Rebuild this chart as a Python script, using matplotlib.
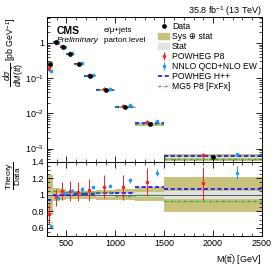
import matplotlib
matplotlib.use("Agg")
import matplotlib.pyplot as plt
import numpy as np
from matplotlib.patches import Patch
from matplotlib.lines import Line2D

# bin edges in M(tt) [GeV]
edges = [300, 360, 430, 500, 580, 680, 800, 1000, 1200, 1500, 2500]

# measured cross section [pb/GeV]
data = [0.25, 1.05, 0.77, 0.48, 0.25, 0.116, 0.045, 0.015, 0.0049, 0.00056]

# relative uncertainties (up / down) of the data
sys_up = [0.24, 0.08, 0.06, 0.05, 0.05, 0.05, 0.06, 0.07, 0.10, 0.22]
sys_dn = [0.24, 0.08, 0.06, 0.05, 0.05, 0.05, 0.06, 0.06, 0.08, 0.21]
stat = [0.01, 0.01, 0.01, 0.01, 0.01, 0.01, 0.02, 0.02, 0.03, 0.05]

# theory / data
r_powheg = [0.77, 0.97, 1.05, 1.05, 1.04, 1.06, 1.10, 1.09, 1.16, 1.14]
e_powheg = [0.12, 0.10, 0.11, 0.12, 0.12, 0.13, 0.14, 0.15, 0.17, 0.20]
r_nnlo = [0.62, 0.96, 1.02, 1.05, 1.07, 1.09, 1.11, 1.175, 1.27, 1.27]
e_nnlo = [0.02, 0.02, 0.02, 0.02, 0.02, 0.02, 0.02, 0.03, 0.04, 0.08]
r_herwig = [0.94, 1.00, 1.00, 1.00, 1.01, 1.01, 1.02, 1.02, 1.09, 1.07]
r_mg5 = [0.67, 1.05, 1.07, 1.04, 1.04, 1.04, 1.04, 0.99, 1.00, 0.93]

edges = np.array(edges, dtype=float)
lo, hi = edges[:-1], edges[1:]
w = hi - lo
cen = lo + 0.5*w
x_red = lo + 0.40*w
x_blue = lo + 0.74*w
data = np.array(data)

c_sys = "#c9c27f"
c_stat = "#e2e2e2"
c_red = "#ff2020"
c_blue = "#1e9cf0"
c_dash = "#1010ff"
c_green = "#33aa33"
dash = (0, (2.5, 1.5))
dashdot = (0, (2, 1, 0.6, 1))

plt.rcParams["font.family"] = ["Liberation Sans", "DejaVu Sans"]
plt.rcParams["font.size"] = 6.5
plt.rcParams["mathtext.fontset"] = "custom"
plt.rcParams["mathtext.rm"] = "Liberation Sans"
plt.rcParams["mathtext.it"] = "Liberation Sans:italic"

fig = plt.figure(figsize=(2.76, 2.68), dpi=100)
ax = fig.add_axes([0.170, 0.396, 0.779, 0.541])
rx = fig.add_axes([0.170, 0.119, 0.779, 0.277], sharex=ax)

# ---- top panel
for i in range(len(data)):
    ax.fill_between([lo[i], hi[i]], data[i]*(1-sys_dn[i]), data[i]*(1+sys_up[i]),
                    color=c_sys, lw=0, zorder=1)
    ax.fill_between([lo[i], hi[i]], data[i]*(1-stat[i]), data[i]*(1+stat[i]),
                    color=c_stat, lw=0, zorder=1)
    ax.plot([lo[i], hi[i]], [data[i]*r_herwig[i]]*2, color=c_dash, ls=dash, lw=1.2, zorder=3)
    ax.plot([lo[i], hi[i]], [data[i]*r_mg5[i]]*2, color=c_green, ls=dashdot, lw=1.0, zorder=3)
h_red = ax.errorbar(x_red, data*np.array(r_powheg), yerr=data*np.array(e_powheg), fmt="o",
                    ms=1.6, color=c_red, lw=0.7, zorder=4)
h_blue = ax.errorbar(x_blue, data*np.array(r_nnlo), yerr=data*np.array(e_nnlo), fmt="o",
                     ms=1.6, color=c_blue, lw=0.7, zorder=4)
h_data, = ax.plot(cen, data, "o", color="black", ms=2.4, zorder=5)

ax.set_yscale("log")
ax.set_ylim(4.2e-4, 5.5)
ax.set_yticks([1e-3, 1e-2, 1e-1, 1])
ax.set_yticklabels(["$10^{-3}$", "$10^{-2}$", "$10^{-1}$", "1"])
ax.set_ylabel(r"$\dfrac{d\sigma}{dM(t\bar{t})}$ [pb GeV$^{-1}$]", loc="top", fontsize=6.3)
ax.tick_params(labelbottom=False)

ax.text(0.045, 0.935, "CMS", transform=ax.transAxes, fontsize=7.5, fontweight="bold", va="top")
ax.text(0.045, 0.86, "Preliminary", transform=ax.transAxes, fontsize=6, style="italic", va="top")
ax.text(0.265, 0.93, "e/μ+jets", transform=ax.transAxes, fontsize=5.8, va="top")
ax.text(0.265, 0.86, "parton level", transform=ax.transAxes, fontsize=5.8, va="top")
fig.text(0.949, 0.958, "35.8 fb$^{-1}$ (13 TeV)", ha="right", va="center", fontsize=6.5)

handles = [
    h_data,
    Patch(color=c_sys),
    Patch(color=c_stat),
    h_red,
    h_blue,
    Line2D([], [], color=c_dash, ls=dash, lw=1.2),
    Line2D([], [], color=c_green, ls=dashdot, lw=1.0),
]
labels = ["Data", "Sys ⊕ stat", "Stat", "POWHEG P8", "NNLO QCD+NLO EW",
          "POWHEG H++", "MG5 P8 [FxFx]"]
ax.legend(handles, labels, loc="upper right", bbox_to_anchor=(1.0, 1.0), frameon=False,
          fontsize=6.2, handlelength=1.3, handletextpad=0.3, labelspacing=0.12,
          borderaxespad=0.2)

# ---- ratio panel
for i in range(len(data)):
    rx.fill_between([lo[i], hi[i]], 1-sys_dn[i], 1+sys_up[i], color=c_sys, lw=0, zorder=1)
    rx.fill_between([lo[i], hi[i]], 1-stat[i], 1+stat[i], color=c_stat, lw=0, zorder=1)
    rx.plot([lo[i], hi[i]], [r_herwig[i]]*2, color=c_dash, ls=dash, lw=1.2, zorder=3)
    rx.plot([lo[i], hi[i]], [r_mg5[i]]*2, color=c_green, ls=dashdot, lw=1.0, zorder=3)
rx.axhline(1, color="#555555", lw=0.7, zorder=2)
rx.errorbar(x_red, r_powheg, yerr=e_powheg, fmt="o", ms=1.6, color=c_red, lw=0.7, zorder=4)
rx.errorbar(x_blue, r_nnlo, yerr=e_nnlo, fmt="o", ms=1.6, color=c_blue, lw=0.7, zorder=4)

rx.set_ylim(0.5, 1.4)
rx.set_yticks([0.6, 0.8, 1.0, 1.2, 1.4])
rx.set_yticklabels(["0.6", "0.8", "1", "1.2", "1.4"])
rx.set_xlim(300, 2500)
rx.set_xticks([500, 1000, 1500, 2000, 2500])
rx.set_ylabel(r"$\dfrac{\mathrm{Theory}}{\mathrm{Data}}$", loc="top", fontsize=6)
rx.set_xlabel(r"M(t$\bar{\mathrm{t}}$) [GeV]", loc="right", fontsize=6.5)

for a in (ax, rx):
    a.minorticks_on()
    a.tick_params(which="both", direction="in", top=True, right=True, labelsize=6.5, pad=2)
    a.tick_params(which="major", length=4, width=0.6)
    a.tick_params(which="minor", length=2, width=0.5)
    for s in a.spines.values():
        s.set_linewidth(0.7)
ax.yaxis.set_label_coords(-0.098, 1.0)
rx.yaxis.set_label_coords(-0.11, 1.0)

fig.savefig("out.png", dpi=100)
